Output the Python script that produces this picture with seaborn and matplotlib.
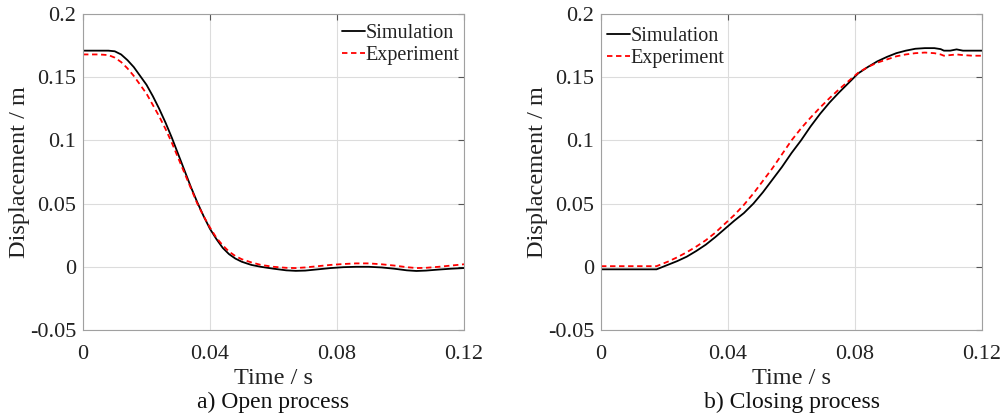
import numpy as np
import pandas as pd
import matplotlib
matplotlib.use("Agg")
import matplotlib.pyplot as plt
import seaborn as sns

# ---- data ----
t_open = [0.0, 0.005, 0.008, 0.010, 0.012, 0.014, 0.016, 0.018, 0.020, 0.022, 0.024, 0.026, 0.028,
          0.030, 0.032, 0.034, 0.036, 0.038, 0.040, 0.042, 0.044, 0.046, 0.048, 0.050, 0.053, 0.056,
          0.060, 0.064, 0.067, 0.070, 0.074, 0.078, 0.082, 0.086, 0.090, 0.094, 0.098, 0.102, 0.105,
          0.108, 0.112, 0.116, 0.120]
sim_open = [0.171, 0.171, 0.171, 0.1705, 0.168, 0.1635, 0.158, 0.151, 0.144, 0.135, 0.125, 0.114, 0.102,
            0.089, 0.076, 0.063, 0.051, 0.040, 0.030, 0.022, 0.015, 0.010, 0.0065, 0.004, 0.0015, 0.0,
            -0.0015, -0.0028, -0.0032, -0.003, -0.002, -0.001, -0.0003, 0.0, 0.0, -0.0005, -0.0015, -0.0028, -0.0033,
            -0.003, -0.0022, -0.0015, -0.001]
exp_open = [0.168, 0.168, 0.1675, 0.1655, 0.162, 0.157, 0.151, 0.144, 0.137, 0.128, 0.119, 0.109, 0.098,
            0.086, 0.074, 0.062, 0.050, 0.040, 0.031, 0.023, 0.017, 0.012, 0.0085, 0.006, 0.0035, 0.0015,
            0.0, -0.0008, -0.001, -0.0005, 0.0005, 0.0015, 0.0022, 0.0027, 0.0027, 0.002, 0.001, -0.0003, -0.001,
            -0.0008, 0.0, 0.001, 0.002]

t_close = [0.0, 0.010, 0.0175, 0.019, 0.021, 0.024, 0.027, 0.030, 0.033, 0.036, 0.039, 0.042, 0.045,
           0.048, 0.051, 0.054, 0.057, 0.060, 0.063, 0.066, 0.069, 0.072, 0.075, 0.078, 0.081, 0.084,
           0.087, 0.090, 0.093, 0.096, 0.099, 0.102, 0.105, 0.107, 0.108, 0.110, 0.112, 0.114, 0.117, 0.120]
sim_close = [-0.002, -0.002, -0.002, -0.0005, 0.0015, 0.0045, 0.008, 0.0125, 0.0175, 0.0235, 0.030, 0.0365, 0.0425,
             0.050, 0.059, 0.069, 0.079, 0.090, 0.100, 0.111, 0.121, 0.130, 0.138, 0.1455, 0.153, 0.158,
             0.1625, 0.166, 0.169, 0.171, 0.1725, 0.173, 0.173, 0.1722, 0.171, 0.171, 0.172, 0.171, 0.171, 0.171]
exp_close = [0.0005, 0.0005, 0.0005, 0.002, 0.004, 0.0075, 0.0115, 0.016, 0.021, 0.027, 0.034, 0.041, 0.049,
             0.058, 0.068, 0.078, 0.089, 0.100, 0.1095, 0.118, 0.126, 0.1335, 0.1405, 0.147, 0.1535, 0.158,
             0.1615, 0.164, 0.1665, 0.168, 0.169, 0.1695, 0.169, 0.168, 0.167, 0.1675, 0.168, 0.1675, 0.167, 0.167]

xticks = [0, 0.04, 0.08, 0.12]
xtick_labels = ["0", "0.04", "0.08", "0.12"]
yticks = [-0.05, 0, 0.05, 0.1, 0.15, 0.2]
ytick_labels = ["-0.05", "0", "0.05", "0.1", "0.15", "0.2"]
captions = ["a) Open process", "b) Closing process"]

sns.set_style("white")
plt.rcParams['font.family'] = ['Liberation Serif', 'DejaVu Serif']

fig = plt.figure(figsize=(10.08, 4.17), dpi=100)
W, H = 1008, 417
axL = fig.add_axes([83 / W, 1 - 330 / H, (464 - 83) / W, (330 - 14) / H])
axR = fig.add_axes([601 / W, 1 - 330 / H, (982 - 601) / W, (330 - 14) / H])

panels = [
    (axL, t_open, sim_open, t_open, exp_open, (0.68, 0.968)),
    (axR, t_close, sim_close, t_close, exp_close, (0.016, 0.959)),
]
for i, (ax, ts, ys, te, ye, anchor) in enumerate(panels):
    sns.lineplot(x=ts, y=ys, ax=ax, color="black", lw=1.3, label="Simulation")
    sns.lineplot(x=te, y=ye, ax=ax, color="#ff0000", lw=1.3, linestyle=(0, (3, 2)), label="Experiment")
    ax.set_xlim(0, 0.12)
    ax.set_ylim(-0.05, 0.2)
    ax.set_xticks(xticks)
    ax.set_xticklabels(xtick_labels)
    ax.set_yticks(yticks)
    ax.set_yticklabels(ytick_labels)
    ax.grid(True, color="#dcdcdc", lw=0.8)
    ax.set_axisbelow(True)
    for s in ax.spines.values():
        s.set_color("#a0a0a0")
        s.set_linewidth(0.8)
    ax.tick_params(direction="in", length=4, width=0.8, color="#555555",
                   labelsize=16, labelcolor="#222222", top=True, right=True)
    ax.tick_params(axis="x", pad=11)
    ax.tick_params(axis="y", pad=5)
    ax.set_xlabel("")
    ax.set_ylabel("Displacement / m", fontsize=17.5, color="#222222", labelpad=0)
    leg = ax.legend(loc="upper left", bbox_to_anchor=anchor, frameon=False, fontsize=14.5,
                    handlelength=1.15, handletextpad=0.0, labelspacing=0.15,
                    borderaxespad=0.0, borderpad=0.0)
    for txt in leg.get_texts():
        txt.set_color("#222222")
    bb = ax.get_position()
    xc = (bb.x0 + bb.x1) / 2
    fig.text(xc, 1 - 378 / H, "Time / s", ha="center", va="center",
             fontsize=17.5, color="#222222")
    fig.text(xc, 1 - 402 / H, captions[i], ha="center", va="center",
             fontsize=17, color="#111111")

fig.savefig("out.png", dpi=100)
